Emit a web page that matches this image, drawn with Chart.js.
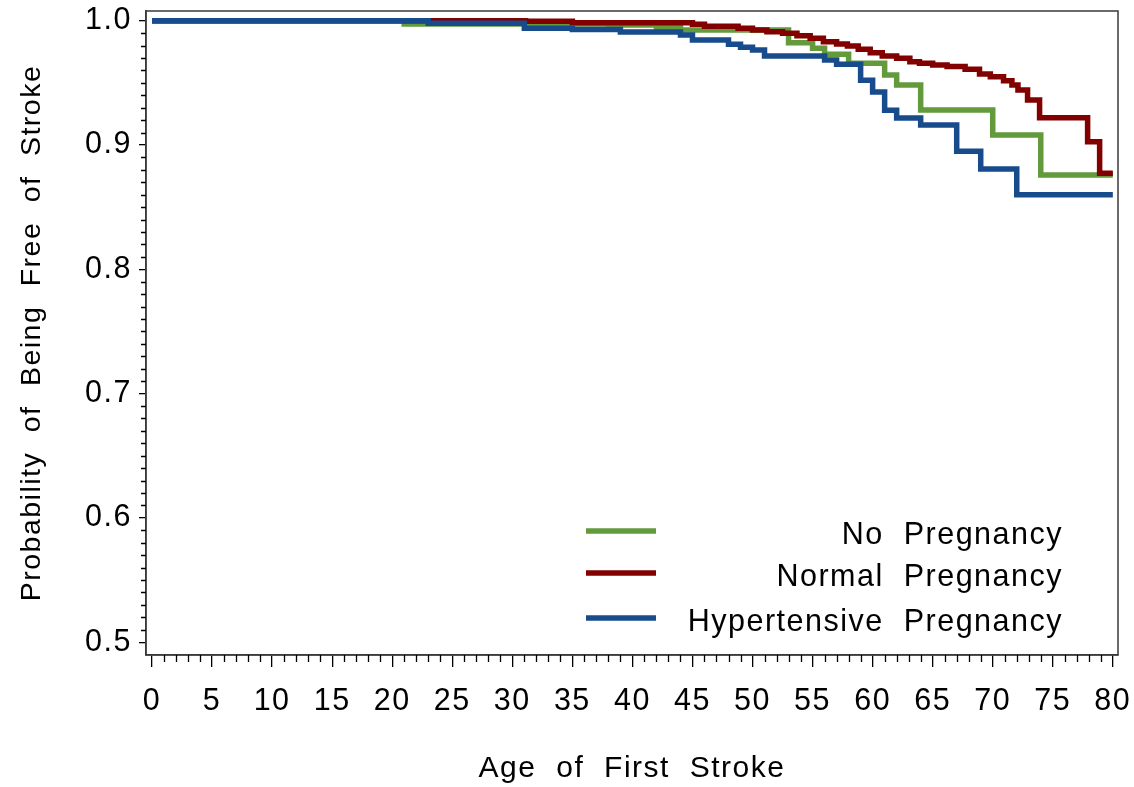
<!DOCTYPE html>
<html>
<head>
<meta charset="utf-8">
<script src="https://cdn.jsdelivr.net/npm/chart.js@4.4.1/dist/chart.umd.min.js"></script>
<style>
  html, body { margin: 0; padding: 0; background: #ffffff; }
  #wrap { width: 1134px; height: 787px; }
</style>
</head>
<body>
<div id="wrap"><canvas id="c" width="1134" height="787"></canvas></div>
<script>
// ---- Data (age at event, survival after event) ----
const seriesLabels = ['No Pregnancy', 'Normal Pregnancy', 'Hypertensive Pregnancy'];

const noPregAge  = [0, 21, 38, 42, 44, 53, 55, 56, 58, 61, 62, 64, 70, 74, 80];
const noPregSurv = [1.0, 0.9973, 0.9965, 0.9945, 0.9925, 0.9823, 0.9778, 0.973, 0.9657, 0.9563, 0.9483, 0.9282, 0.908, 0.8758, 0.8758];

const normPregAge  = [0, 31.1, 35.0, 45.0, 46.0, 48.8, 50.0, 51.2, 52.5, 53.7, 54.8, 55.9, 57.0, 57.9, 58.8, 59.8, 60.8, 62.0, 63.1, 63.9, 65.0, 66.2, 67.7, 68.9, 69.8, 70.9, 71.6, 72.1, 72.9, 73.9, 77.9, 78.9, 80];
const normPregSurv = [1.0, 0.9995, 0.9984, 0.9971, 0.9955, 0.9939, 0.9925, 0.9912, 0.9899, 0.9879, 0.9858, 0.9831, 0.9813, 0.9796, 0.977, 0.9743, 0.9716, 0.9698, 0.967, 0.9657, 0.9644, 0.9632, 0.9609, 0.9571, 0.955, 0.9517, 0.9483, 0.9442, 0.9362, 0.922, 0.9027, 0.8772, 0.8772];

const hypPregAge  = [0, 23, 31, 35, 39, 44, 45, 48, 49, 50, 51, 56, 57, 59, 60, 61, 62, 64, 67, 69, 72, 80];
const hypPregSurv = [1.0, 0.998, 0.994, 0.993, 0.991, 0.9885, 0.9845, 0.981, 0.9786, 0.9764, 0.9716, 0.9684, 0.965, 0.952, 0.9426, 0.928, 0.9217, 0.916, 0.895, 0.8807, 0.86, 0.86];

const xTickValues = [0, 5, 10, 15, 20, 25, 30, 35, 40, 45, 50, 55, 60, 65, 70, 75, 80];
const yTickValues = [0.5, 0.6, 0.7, 0.8, 0.9, 1.0];

const colors = ['#629a3c', '#820000', '#184b8c'];

function toPoints(ages, surv) {
  return ages.map((a, i) => ({ x: a, y: surv[i] }));
}

const FONT = "'Liberation Sans', Arial, sans-serif";
const LS = '1.5px';
const WS = '10px';

function setSpacing(ctx) {
  if ('letterSpacing' in ctx) ctx.letterSpacing = LS;
  if ('wordSpacing' in ctx) ctx.wordSpacing = WS;
}

const spacingPlugin = {
  id: 'spacing',
  beforeUpdate(chart) { setSpacing(chart.ctx); },
  beforeLayout(chart) { setSpacing(chart.ctx); },
  beforeDraw(chart) { setSpacing(chart.ctx); }
};

const framePlugin = {
  id: 'frameAndMinor',
  afterDraw(chart) {
    const { ctx, chartArea: ca, scales } = chart;
    ctx.save();
    ctx.strokeStyle = '#3a3a3a';
    ctx.lineWidth = 1.5;
    ctx.strokeRect(ca.left, ca.top, ca.right - ca.left, ca.bottom - ca.top);
    ctx.strokeStyle = '#000';
    ctx.lineWidth = 1.3;
    ctx.beginPath();
    const xs = scales.x;
    for (let v = 0; v <= 80; v++) {
      if (v % 5 === 0) continue;
      const px = Math.round(xs.getPixelForValue(v)) + 0.5;
      ctx.moveTo(px, ca.bottom);
      ctx.lineTo(px, ca.bottom + 7);
    }
    const ys = scales.y;
    for (let k = 50; k <= 100; k++) {
      if (k % 10 === 0) continue;
      const py = Math.round(ys.getPixelForValue(k / 100)) + 0.5;
      ctx.moveTo(ca.left, py);
      ctx.lineTo(ca.left - 5, py);
    }
    ctx.stroke();
    ctx.restore();
  }
};

const legendPlugin = {
  id: 'insideLegend',
  afterDatasetsDraw(chart) {
    const { ctx, chartArea: ca } = chart;
    ctx.save();
    setSpacing(ctx);
    const rows = [ca.top + 520, ca.top + 562, ca.top + 607];
    const lineX0 = ca.left + 440, lineX1 = ca.left + 510;
    const textRight = ca.right - 55;
    ctx.font = '30.5px ' + FONT;
    ctx.textAlign = 'right';
    ctx.textBaseline = 'middle';
    seriesLabels.forEach((lab, i) => {
      const ds = chart.data.datasets.find(d => d.label === lab);
      ctx.strokeStyle = ds.borderColor;
      ctx.lineWidth = 5.5;
      ctx.beginPath();
      ctx.moveTo(lineX0, rows[i]);
      ctx.lineTo(lineX1, rows[i]);
      ctx.stroke();
      ctx.fillStyle = '#000';
      ctx.fillText(lab, textRight, rows[i] + 5);
    });
    ctx.restore();
  }
};

const ctx = document.getElementById('c').getContext('2d');
new Chart(ctx, {
  type: 'line',
  data: {
    datasets: [
      { label: seriesLabels[0], data: toPoints(noPregAge, noPregSurv), borderColor: colors[0], order: 3 },
      { label: seriesLabels[1], data: toPoints(normPregAge, normPregSurv), borderColor: colors[1], order: 2 },
      { label: seriesLabels[2], data: toPoints(hypPregAge, hypPregSurv), borderColor: colors[2], order: 1 }
    ].map(d => Object.assign(d, {
      stepped: true, borderWidth: 5.5, pointRadius: 0, fill: false,
      borderJoinStyle: 'miter', borderCapStyle: 'butt', tension: 0
    }))
  },
  options: {
    responsive: false,
    devicePixelRatio: 1,
    animation: false,
    events: [],
    layout: { padding: { top: 11, right: 16, left: 0, bottom: 0 } },
    plugins: { legend: { display: false }, tooltip: { enabled: false } },
    scales: {
      x: {
        type: 'linear',
        min: -0.5, max: 80.43,
        afterBuildTicks(s) { s.ticks = xTickValues.map(v => ({ value: v })); },
        afterFit(s) { s.height = 132; s.paddingLeft = 0; s.paddingRight = 0; },
        ticks: {
          includeBounds: false,
          color: '#000',
          font: { family: FONT, size: 30.5 },
          padding: 16,
          maxRotation: 0,
          autoSkip: false,
          callback: v => String(v)
        },
        grid: { drawOnChartArea: false, drawTicks: true, tickLength: 12, color: '#000', lineWidth: 1.3 },
        border: { display: true, color: '#3a3a3a', width: 1.5 },
        title: {
          display: true, text: 'Age of First Stroke', color: '#000',
          font: { family: FONT, size: 30 }, padding: { top: 0, bottom: 0 }
        }
      },
      y: {
        type: 'linear',
        min: 0.4897, max: 1.0078,
        afterBuildTicks(s) { s.ticks = yTickValues.map(v => ({ value: v })); },
        afterFit(s) { s.width = 146; s.paddingTop = 0; s.paddingBottom = 0; },
        ticks: {
          includeBounds: false,
          color: '#000',
          font: { family: FONT, size: 30.5 },
          padding: 7,
          autoSkip: false,
          callback: v => Number(v).toFixed(1)
        },
        grid: { drawOnChartArea: false, drawTicks: true, tickLength: 7, color: '#000', lineWidth: 1.3 },
        border: { display: true, color: '#3a3a3a', width: 1.5 },
        title: {
          display: true, text: 'Probability of Being Free of Stroke', color: '#000',
          font: { family: FONT, size: 28.5 }, padding: { top: 15, bottom: 0 }
        }
      }
    }
  },
  plugins: [spacingPlugin, framePlugin, legendPlugin]
});
</script>
</body>
</html>
